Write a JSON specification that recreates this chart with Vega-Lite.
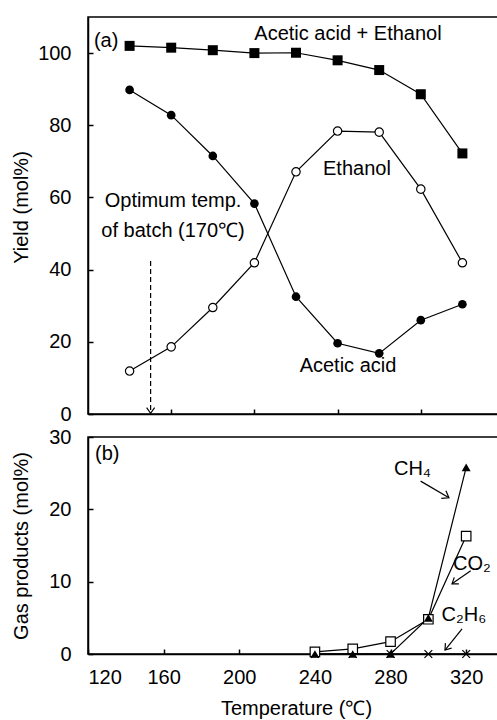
{
  "$schema": "https://vega.github.io/schema/vega-lite/v6.json",
  "background": "white",
  "padding": {"left": 10, "top": 16, "right": 0, "bottom": 0},
  "bounds": "flush",
  "spacing": 23,
  "resolve": {"scale": {"x": "independent", "y": "independent"}},
  "config": {
    "view": {"stroke": "black", "strokeWidth": 1.5},
    "font": "Liberation Sans",
    "axis": {
      "domainColor": "black", "domainWidth": 1.5,
      "tickColor": "black", "tickWidth": 1.5, "tickSize": -5,
      "labelFont": "Liberation Sans", "labelFontSize": 20, "labelColor": "black",
      "titleFont": "Liberation Sans", "titleFontSize": 20, "titleFontWeight": "normal", "titleColor": "black",
      "grid": false
    },
    "axisX": {"labelPadding": 18},
    "axisY": {"labelPadding": 22},
    "text": {"font": "Liberation Sans", "fontSize": 20, "color": "black"}
  },
  "datasets": {
    "yield": [
      {"T": 140, "series": "AE", "value": 102.0},
      {"T": 160, "series": "AE", "value": 101.5},
      {"T": 180, "series": "AE", "value": 100.8},
      {"T": 200, "series": "AE", "value": 100.0},
      {"T": 220, "series": "AE", "value": 100.1},
      {"T": 240, "series": "AE", "value": 98.0},
      {"T": 260, "series": "AE", "value": 95.3},
      {"T": 280, "series": "AE", "value": 88.6},
      {"T": 300, "series": "AE", "value": 72.2},
      {"T": 140, "series": "Acetic", "value": 89.8},
      {"T": 160, "series": "Acetic", "value": 82.8},
      {"T": 180, "series": "Acetic", "value": 71.5},
      {"T": 200, "series": "Acetic", "value": 58.3},
      {"T": 220, "series": "Acetic", "value": 32.5},
      {"T": 240, "series": "Acetic", "value": 19.6},
      {"T": 260, "series": "Acetic", "value": 16.8},
      {"T": 280, "series": "Acetic", "value": 26.0},
      {"T": 300, "series": "Acetic", "value": 30.4},
      {"T": 140, "series": "Ethanol", "value": 11.9},
      {"T": 160, "series": "Ethanol", "value": 18.6},
      {"T": 180, "series": "Ethanol", "value": 29.5},
      {"T": 200, "series": "Ethanol", "value": 41.9},
      {"T": 220, "series": "Ethanol", "value": 67.1},
      {"T": 240, "series": "Ethanol", "value": 78.4},
      {"T": 260, "series": "Ethanol", "value": 78.1},
      {"T": 280, "series": "Ethanol", "value": 62.3},
      {"T": 300, "series": "Ethanol", "value": 41.9}
    ],
    "gas": [
      {"T": 240, "gas": "C2H6", "value": 0},
      {"T": 260, "gas": "C2H6", "value": 0},
      {"T": 280, "gas": "C2H6", "value": 0},
      {"T": 300, "gas": "C2H6", "value": 0},
      {"T": 320, "gas": "C2H6", "value": 0},
      {"T": 240, "gas": "CO2", "value": 0.3},
      {"T": 260, "gas": "CO2", "value": 0.7},
      {"T": 280, "gas": "CO2", "value": 1.7},
      {"T": 300, "gas": "CO2", "value": 4.8},
      {"T": 320, "gas": "CO2", "value": 16.3},
      {"T": 240, "gas": "CH4", "value": 0},
      {"T": 260, "gas": "CH4", "value": 0},
      {"T": 280, "gas": "CH4", "value": 0},
      {"T": 300, "gas": "CH4", "value": 5.0},
      {"T": 320, "gas": "CH4", "value": 25.8}
    ],
    "labelsA": [
      {"x": 128.7, "y": 103.4, "text": "(a)"},
      {"x": 245, "y": 105.3, "text": "Acetic acid + Ethanol"},
      {"x": 249.3, "y": 67.9, "text": "Ethanol"},
      {"x": 245, "y": 13.3, "text": "Acetic acid"},
      {"x": 160.9, "y": 59.0, "text": "Optimum temp."},
      {"x": 160.9, "y": 50.7, "text": "of batch (170℃)"}
    ],
    "arrowA": [
      {"x": 150.1, "y": 42.4, "y2": 0.2}
    ],
    "labelsB": [
      {"x": 123.7, "y": 27.7, "text": "(b)"},
      {"x": 281.8, "y": 25.6, "text": "CH₄"},
      {"x": 313.0, "y": 12.4, "text": "CO₂"},
      {"x": 307.0, "y": 5.4, "text": "C₂H₆"}
    ],
    "arrowsB": [
      {"name": "CH4", "x": 295.9, "y": 23.9, "x2": 310.9, "y2": 21.6},
      {"name": "CO2", "x": 322.4, "y": 11.5, "x2": 312.5, "y2": 9.7},
      {"name": "C2H6", "x": 317.8, "y": 3.46, "x2": 308.8, "y2": 0.55}
    ]
  },
  "vconcat": [
    {
      "width": 416,
      "height": 397,
      "layer": [
        {
          "data": {"name": "yield"},
          "mark": {"type": "line", "color": "black", "strokeWidth": 1.2},
          "encoding": {
            "x": {"field": "T", "type": "quantitative", "scale": {"domain": [120, 320], "nice": false},
                  "axis": {"labels": false, "title": null, "values": [160, 200, 240, 280]}},
            "y": {"field": "value", "type": "quantitative", "scale": {"domain": [0, 110], "nice": false},
                  "axis": {"values": [0, 20, 40, 60, 80, 100], "title": "Yield (mol%)", "titlePadding": 6, "titleY": 190}},
            "detail": {"field": "series"}
          }
        },
        {
          "data": {"name": "yield"},
          "transform": [{"filter": "datum.series === 'AE'"}],
          "mark": {"type": "point", "shape": "square", "filled": true, "color": "black", "size": 100, "opacity": 1},
          "encoding": {"x": {"field": "T", "type": "quantitative"}, "y": {"field": "value", "type": "quantitative"}}
        },
        {
          "data": {"name": "yield"},
          "transform": [{"filter": "datum.series === 'Acetic'"}],
          "mark": {"type": "point", "shape": "circle", "filled": true, "color": "black", "size": 75, "opacity": 1},
          "encoding": {"x": {"field": "T", "type": "quantitative"}, "y": {"field": "value", "type": "quantitative"}}
        },
        {
          "data": {"name": "yield"},
          "transform": [{"filter": "datum.series === 'Ethanol'"}],
          "mark": {"type": "point", "shape": "circle", "filled": false, "fill": "white", "fillOpacity": 1, "stroke": "black", "strokeWidth": 1.2, "size": 70, "opacity": 1},
          "encoding": {"x": {"field": "T", "type": "quantitative"}, "y": {"field": "value", "type": "quantitative"}}
        },
        {
          "data": {"name": "arrowA"},
          "mark": {"type": "rule", "color": "black", "strokeWidth": 1.2, "strokeDash": [5, 3]},
          "encoding": {"x": {"field": "x", "type": "quantitative"}, "y": {"field": "y", "type": "quantitative"}, "y2": {"field": "y2"}}
        },
        {
          "data": {"name": "arrowA"},
          "mark": {"type": "point", "shape": "M-1,1.4L0,0L1,1.4", "filled": false, "stroke": "black", "strokeWidth": 1.2, "size": 64, "angle": 180, "opacity": 1},
          "encoding": {"x": {"field": "x", "type": "quantitative"}, "y": {"field": "y2", "type": "quantitative"}}
        },
        {
          "data": {"name": "labelsA"},
          "mark": {"type": "text", "baseline": "middle", "align": "center"},
          "encoding": {
            "x": {"field": "x", "type": "quantitative"},
            "y": {"field": "y", "type": "quantitative"},
            "text": {"field": "text"}
          }
        }
      ]
    },
    {
      "width": 416,
      "height": 217,
      "layer": [
        {
          "data": {"name": "gas"},
          "mark": {"type": "line", "color": "black", "strokeWidth": 1.2},
          "encoding": {
            "x": {"field": "T", "type": "quantitative", "scale": {"domain": [120, 340], "nice": false},
                  "axis": {"values": [120, 160, 200, 240, 280, 320], "title": "Temperature (℃)", "titlePadding": 11}},
            "y": {"field": "value", "type": "quantitative", "scale": {"domain": [0, 30], "nice": false},
                  "axis": {"values": [0, 10, 20, 30], "title": "Gas products (mol%)", "titlePadding": 17}},
            "detail": {"field": "gas"}
          }
        },
        {
          "data": {"name": "gas"},
          "transform": [{"filter": "datum.gas === 'C2H6'"}],
          "mark": {"type": "point", "shape": "M-1,-1L1,1M1,-1L-1,1", "filled": false, "stroke": "black", "strokeWidth": 1.2, "size": 60, "opacity": 1},
          "encoding": {"x": {"field": "T", "type": "quantitative"}, "y": {"field": "value", "type": "quantitative"}}
        },
        {
          "data": {"name": "gas"},
          "transform": [{"filter": "datum.gas === 'CO2'"}],
          "mark": {"type": "point", "shape": "square", "filled": false, "fill": "white", "fillOpacity": 1, "stroke": "black", "strokeWidth": 1.2, "size": 90, "opacity": 1},
          "encoding": {"x": {"field": "T", "type": "quantitative"}, "y": {"field": "value", "type": "quantitative"}}
        },
        {
          "data": {"name": "gas"},
          "transform": [{"filter": "datum.gas === 'CH4'"}],
          "mark": {"type": "point", "shape": "triangle-up", "filled": true, "color": "black", "size": 80, "opacity": 1},
          "encoding": {"x": {"field": "T", "type": "quantitative"}, "y": {"field": "value", "type": "quantitative"}}
        },
        {
          "data": {"name": "arrowsB"},
          "mark": {"type": "rule", "color": "black", "strokeWidth": 1.2},
          "encoding": {"x": {"field": "x", "type": "quantitative"}, "y": {"field": "y", "type": "quantitative"}, "x2": {"field": "x2"}, "y2": {"field": "y2"}}
        },
        {
          "data": {"name": "arrowsB"},
          "transform": [{"filter": "datum.name === 'CH4'"}],
          "mark": {"type": "point", "shape": "M-1,1.4L0,0L1,1.4", "filled": false, "stroke": "black", "strokeWidth": 1.2, "size": 80, "angle": 121, "opacity": 1},
          "encoding": {"x": {"field": "x2", "type": "quantitative"}, "y": {"field": "y2", "type": "quantitative"}}
        },
        {
          "data": {"name": "arrowsB"},
          "transform": [{"filter": "datum.name === 'CO2'"}],
          "mark": {"type": "point", "shape": "M-1,1.4L0,0L1,1.4", "filled": false, "stroke": "black", "strokeWidth": 1.2, "size": 64, "angle": 235, "opacity": 1},
          "encoding": {"x": {"field": "x2", "type": "quantitative"}, "y": {"field": "y2", "type": "quantitative"}}
        },
        {
          "data": {"name": "arrowsB"},
          "transform": [{"filter": "datum.name === 'C2H6'"}],
          "mark": {"type": "point", "shape": "M-1,1.4L0,0L1,1.4", "filled": false, "stroke": "black", "strokeWidth": 1.2, "size": 64, "angle": 219, "opacity": 1},
          "encoding": {"x": {"field": "x2", "type": "quantitative"}, "y": {"field": "y2", "type": "quantitative"}}
        },
        {
          "data": {"name": "labelsB"},
          "mark": {"type": "text", "baseline": "middle", "align": "left"},
          "encoding": {
            "x": {"field": "x", "type": "quantitative"},
            "y": {"field": "y", "type": "quantitative"},
            "text": {"field": "text"}
          }
        }
      ]
    }
  ]
}
